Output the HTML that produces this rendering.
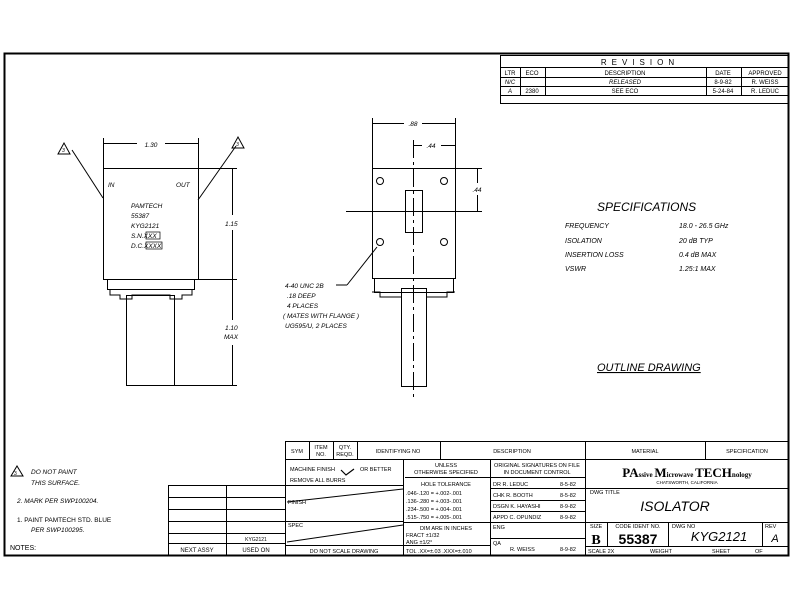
<!DOCTYPE html>
<html><head><meta charset="utf-8"><style>
html,body{margin:0;padding:0;background:#fff}
svg{display:block}
text{font-family:"Liberation Sans",sans-serif;fill:#000}
.i{font-style:italic}
</style></head><body>
<svg width="792" height="612" viewBox="0 0 792 612" xmlns="http://www.w3.org/2000/svg" stroke="#000" fill="none" stroke-width="1">
<!-- frame -->
<rect x="4.5" y="53.5" width="784" height="502" stroke-width="2"/>
<!-- revision -->
<g stroke-width="1">
<rect x="500.5" y="55.5" width="288" height="48"/>
<line x1="500" y1="67.5" x2="789" y2="67.5"/>
<line x1="500" y1="77.5" x2="789" y2="77.5"/>
<line x1="500" y1="86.5" x2="789" y2="86.5"/>
<line x1="500" y1="95.5" x2="789" y2="95.5"/>
<line x1="520.5" y1="67" x2="520.5" y2="95"/>
<line x1="545.5" y1="67" x2="545.5" y2="95"/>
<line x1="706.5" y1="67" x2="706.5" y2="95"/>
<line x1="741.5" y1="67" x2="741.5" y2="95"/>
</g>
<g stroke="none" font-size="6">
<text x="640" y="65" font-size="8" text-anchor="middle" letter-spacing="5">REVISION</text>
<text x="510" y="75" text-anchor="middle">LTR</text>
<text x="532" y="75" text-anchor="middle">ECO</text>
<text x="625" y="75" text-anchor="middle">DESCRIPTION</text>
<text x="723" y="75" text-anchor="middle">DATE</text>
<text x="765" y="75" text-anchor="middle">APPROVED</text>
<text x="510" y="84" class="i" text-anchor="middle">N/C</text>
<text x="625" y="84" class="i" text-anchor="middle">RELEASED</text>
<text x="723" y="84" text-anchor="middle">8-9-82</text>
<text x="765" y="84" text-anchor="middle">R. WEISS</text>
<text x="510" y="93" class="i" text-anchor="middle">A</text>
<text x="532" y="93" text-anchor="middle">2380</text>
<text x="625" y="93" text-anchor="middle">SEE ECO</text>
<text x="723" y="93" text-anchor="middle">5-24-84</text>
<text x="765" y="93" text-anchor="middle">R. LEDUC</text>
</g>

<!-- left view -->
<rect x="103.5" y="168.5" width="95" height="111"/>
<rect x="107.5" y="279.5" width="87" height="10"/>
<path d="M110 289 v6 h10 v4 h12 v-4 h38 v4 h12 v-4 h10 v-6"/>
<rect x="126.5" y="295.5" width="48" height="90"/>
<line x1="103.5" y1="138" x2="103.5" y2="168"/>
<line x1="198.5" y1="138" x2="198.5" y2="168"/>
<line x1="104" y1="143.5" x2="137" y2="143.5"/><line x1="165" y1="143.5" x2="198" y2="143.5"/>
<line x1="198" y1="168.5" x2="237" y2="168.5"/>
<line x1="198" y1="279.5" x2="237" y2="279.5"/>
<line x1="175" y1="385.5" x2="237" y2="385.5"/>
<line x1="232.5" y1="168" x2="232.5" y2="215"/><line x1="232.5" y1="230" x2="232.5" y2="320"/><line x1="232.5" y1="345" x2="232.5" y2="385"/>
<line x1="72" y1="150" x2="103" y2="198"/>
<line x1="236" y1="146" x2="198" y2="200"/>
<path d="M58 154 L64 143 L70 154 Z"/><path d="M232 148 L238 137 L244 148 Z"/>
<g stroke="none" font-size="6.5" class="i">
<text x="151" y="147" text-anchor="middle">1.30</text>
<text x="62" y="152" font-size="5">3</text><text x="236" y="146" font-size="5">3</text>
<text x="108" y="187">IN</text><text x="176" y="187">OUT</text>
<text x="131" y="208">PAMTECH</text>
<text x="131" y="218">55387</text>
<text x="131" y="228">KYG2121</text>
<text x="131" y="238">S.N.<tspan>XXX</tspan></text>
<text x="131" y="248">D.C.<tspan>XXXX</tspan></text>
<text x="225" y="226">1.15</text>
<text x="225" y="330">1.10</text>
<text x="224" y="339">MAX</text>
</g>
<rect x="146" y="232" width="14" height="7" stroke-width="0.7"/>
<rect x="146" y="242" width="16" height="7" stroke-width="0.7"/>

<!-- right view -->
<rect x="372.5" y="168.5" width="83" height="110"/>
<rect x="374.5" y="278.5" width="79" height="14"/>
<path d="M372 292 h8 v5 h21 M426 297 h21 v-5 h8"/>
<rect x="401.5" y="288.5" width="25" height="98"/>
<rect x="405.5" y="190.5" width="17" height="42"/>
<line x1="413.5" y1="140" x2="413.5" y2="400" stroke-dasharray="18,4,3,4"/>
<line x1="346" y1="211.5" x2="480" y2="211.5"/>
<g>
<circle cx="380" cy="181" r="3.5"/><circle cx="444" cy="181" r="3.5"/>
<circle cx="380" cy="242" r="3.5"/><circle cx="444" cy="242" r="3.5"/>
</g>
<line x1="372.5" y1="118" x2="372.5" y2="168"/><line x1="455.5" y1="118" x2="455.5" y2="168"/>
<line x1="373" y1="123.5" x2="404" y2="123.5"/><line x1="422" y1="123.5" x2="455" y2="123.5"/>
<line x1="414" y1="145.5" x2="422" y2="145.5"/><line x1="441" y1="145.5" x2="455" y2="145.5"/>
<line x1="455" y1="168.5" x2="482" y2="168.5"/><line x1="420" y1="211.5" x2="482" y2="211.5"/>
<line x1="477.5" y1="169" x2="477.5" y2="183"/><line x1="477.5" y1="195" x2="477.5" y2="211"/>
<line x1="377" y1="247" x2="347" y2="285"/><line x1="347" y1="285" x2="336" y2="285"/>
<g stroke="none" font-size="6.5" class="i">
<text x="413" y="126" text-anchor="middle">.88</text>
<text x="431" y="148" text-anchor="middle">.44</text>
<text x="477" y="192" text-anchor="middle">.44</text>
<text x="285" y="288">4-40 UNC 2B</text>
<text x="287" y="298">.18 DEEP</text>
<text x="287" y="308">4 PLACES</text>
<text x="283" y="318">( MATES WITH FLANGE )</text>
<text x="285" y="328">UG595/U, 2 PLACES</text>
</g>

<!-- specs -->
<g stroke="none" class="i">
<text x="597" y="211" font-size="12">SPECIFICATIONS</text>
<text x="565" y="228" font-size="7">FREQUENCY</text><text x="679" y="228" font-size="7">18.0 - 26.5 GHz</text>
<text x="565" y="243" font-size="7">ISOLATION</text><text x="679" y="243" font-size="7">20 dB TYP</text>
<text x="565" y="257" font-size="7">INSERTION LOSS</text><text x="679" y="257" font-size="7">0.4 dB MAX</text>
<text x="565" y="271" font-size="7">VSWR</text><text x="679" y="271" font-size="7">1.25:1 MAX</text>
<text x="597" y="371" font-size="11" text-decoration="underline">OUTLINE DRAWING</text>
</g>

<!-- notes -->
<path d="M11 476 L17 466 L23 476 Z"/>
<g stroke="none" font-size="6.5">
<text x="14" y="475" font-size="5">3</text>
<text x="31" y="474" class="i">DO NOT PAINT</text>
<text x="31" y="485" class="i">THIS SURFACE.</text>
<text x="17" y="503" class="i">2.  MARK PER SWP100204.</text>
<text x="17" y="522">1.  PAINT PAMTECH STD. BLUE</text>
<text x="31" y="532" class="i">PER SWP100295.</text>
<text x="10" y="550" font-size="7">NOTES:</text>
</g>

<!-- next assy -->
<g>
<line x1="168" y1="485.5" x2="285" y2="485.5"/>
<line x1="168" y1="497.5" x2="285" y2="497.5"/>
<line x1="168" y1="509.5" x2="285" y2="509.5"/>
<line x1="168" y1="521.5" x2="285" y2="521.5"/>
<line x1="168" y1="533.5" x2="285" y2="533.5"/>
<line x1="168" y1="543.5" x2="285" y2="543.5"/>
<line x1="168.5" y1="485" x2="168.5" y2="555"/>
<line x1="226.5" y1="485" x2="226.5" y2="555"/>
</g>
<g stroke="none" font-size="6">
<text x="256" y="541" text-anchor="middle" font-size="5">KYG2121</text>
<text x="197" y="552" text-anchor="middle">NEXT ASSY</text>
<text x="256" y="552" text-anchor="middle">USED ON</text>
</g>

<!-- title block -->
<g>
<line x1="285.5" y1="441" x2="285.5" y2="555"/>
<line x1="285" y1="441.5" x2="789" y2="441.5"/>
<line x1="285" y1="459.5" x2="789" y2="459.5"/>
<line x1="309.5" y1="441" x2="309.5" y2="459"/>
<line x1="333.5" y1="441" x2="333.5" y2="459"/>
<line x1="357.5" y1="441" x2="357.5" y2="459"/>
<line x1="440.5" y1="441" x2="440.5" y2="459"/>
<line x1="585.5" y1="441" x2="585.5" y2="555"/>
<line x1="705.5" y1="441" x2="705.5" y2="459"/>
<line x1="403.5" y1="459" x2="403.5" y2="555"/>
<line x1="490.5" y1="459" x2="490.5" y2="555"/>
<line x1="285" y1="485.5" x2="403" y2="485.5"/>
<line x1="285" y1="521.5" x2="403" y2="521.5"/>
<line x1="285" y1="545.5" x2="403" y2="545.5"/>
<line x1="287" y1="502" x2="403" y2="489"/>
<line x1="287" y1="542" x2="403" y2="525"/>
<line x1="405" y1="477.5" x2="490" y2="477.5"/>
<line x1="403" y1="522.5" x2="490" y2="522.5"/>
<line x1="403" y1="545.5" x2="490" y2="545.5"/>
<line x1="490" y1="477.5" x2="585" y2="477.5"/>
<line x1="490" y1="488.5" x2="585" y2="488.5"/>
<line x1="490" y1="500.5" x2="585" y2="500.5"/>
<line x1="490" y1="511.5" x2="585" y2="511.5"/>
<line x1="490" y1="522.5" x2="585" y2="522.5"/>
<line x1="490" y1="538.5" x2="585" y2="538.5"/>
<line x1="585" y1="488.5" x2="789" y2="488.5"/>
<line x1="585" y1="522.5" x2="789" y2="522.5"/>
<line x1="585" y1="546.5" x2="789" y2="546.5"/>
<line x1="607.5" y1="522" x2="607.5" y2="546"/>
<line x1="668.5" y1="522" x2="668.5" y2="546"/>
<line x1="762.5" y1="522" x2="762.5" y2="546"/>
<path d="M341 470 l5 5 l8 -6" stroke-width="1.2"/>
</g>
<g stroke="none" font-size="5.5">
<text x="297" y="453" text-anchor="middle">SYM</text>
<text x="321" y="449" text-anchor="middle">ITEM</text><text x="321" y="456" text-anchor="middle">NO.</text>
<text x="345" y="449" text-anchor="middle">QTY.</text><text x="345" y="456" text-anchor="middle">REQD.</text>
<text x="398" y="453" text-anchor="middle">IDENTIFYING NO</text>
<text x="512" y="453" text-anchor="middle">DESCRIPTION</text>
<text x="645" y="453" text-anchor="middle">MATERIAL</text>
<text x="747" y="453" text-anchor="middle">SPECIFICATION</text>
<text x="290" y="471">MACHINE FINISH</text><text x="360" y="471">OR BETTER</text>
<text x="290" y="482">REMOVE ALL BURRS</text>
<text x="288" y="504">FINISH</text>
<text x="288" y="527">SPEC</text>
<text x="344" y="553" text-anchor="middle">DO NOT SCALE DRAWING</text>
<text x="446" y="467" text-anchor="middle">UNLESS</text>
<text x="446" y="474" text-anchor="middle">OTHERWISE SPECIFIED</text>
<text x="446" y="486" text-anchor="middle">HOLE TOLERANCE</text>
<text x="406" y="495">.046-.120  =  +.002-.001</text>
<text x="406" y="503">.136-.280  =  +.003-.001</text>
<text x="406" y="511">.234-.500  =  +.004-.001</text>
<text x="406" y="519">.515-.750  =  +.005-.001</text>
<text x="446" y="530" text-anchor="middle">DIM ARE IN INCHES</text>
<text x="406" y="537">FRACT ±1/32</text>
<text x="406" y="544">ANG ±1/2°</text>
<text x="406" y="553">TOL .XX=±.03 .XXX=±.010</text>
<text x="537" y="467" text-anchor="middle">ORIGINAL SIGNATURES ON FILE</text>
<text x="537" y="474" text-anchor="middle">IN DOCUMENT CONTROL</text>
<text x="493" y="486">DR   R. LEDUC</text><text x="560" y="486">8-5-82</text>
<text x="493" y="497">CHK  R. BOOTH</text><text x="560" y="497">8-5-82</text>
<text x="493" y="508">DSGN  K. HAYASHI</text><text x="560" y="508">8-9-82</text>
<text x="493" y="519">APPD  C. OPUNDIZ</text><text x="560" y="519">8-9-82</text>
<text x="493" y="529">ENG</text>
<text x="493" y="545">QA</text><text x="510" y="551">R. WEISS</text><text x="560" y="551">8-9-82</text>
<text x="590" y="494">DWG TITLE</text>
<text x="590" y="528">SIZE</text>
<text x="638" y="528" text-anchor="middle">CODE IDENT NO.</text>
<text x="672" y="528">DWG NO</text>
<text x="765" y="528">REV</text>
<text x="588" y="553">SCALE   2X</text>
<text x="650" y="553">WEIGHT</text>
<text x="712" y="553">SHEET</text><text x="755" y="553">OF</text>
<text x="687" y="484" text-anchor="middle" font-size="4.5">CHATSWORTH, CALIFORNIA</text>
</g>
<g stroke="none">
<text x="687" y="477" text-anchor="middle" font-weight="bold" font-size="13" style="font-family:'Liberation Serif',serif">PA<tspan font-size="7">ssive </tspan>M<tspan font-size="7">icrowave </tspan>TECH<tspan font-size="7">nology</tspan></text>
<text x="675" y="511" text-anchor="middle" font-size="14" class="i">ISOLATOR</text>
<text x="596" y="544" text-anchor="middle" font-size="14" font-weight="bold" style="font-family:'Liberation Serif',serif">B</text>
<text x="638" y="544" text-anchor="middle" font-size="14" font-weight="bold">55387</text>
<text x="719" y="541" text-anchor="middle" font-size="13" class="i">KYG2121</text>
<text x="775" y="542" text-anchor="middle" font-size="11" class="i">A</text>
</g>
</svg>
</body></html>
